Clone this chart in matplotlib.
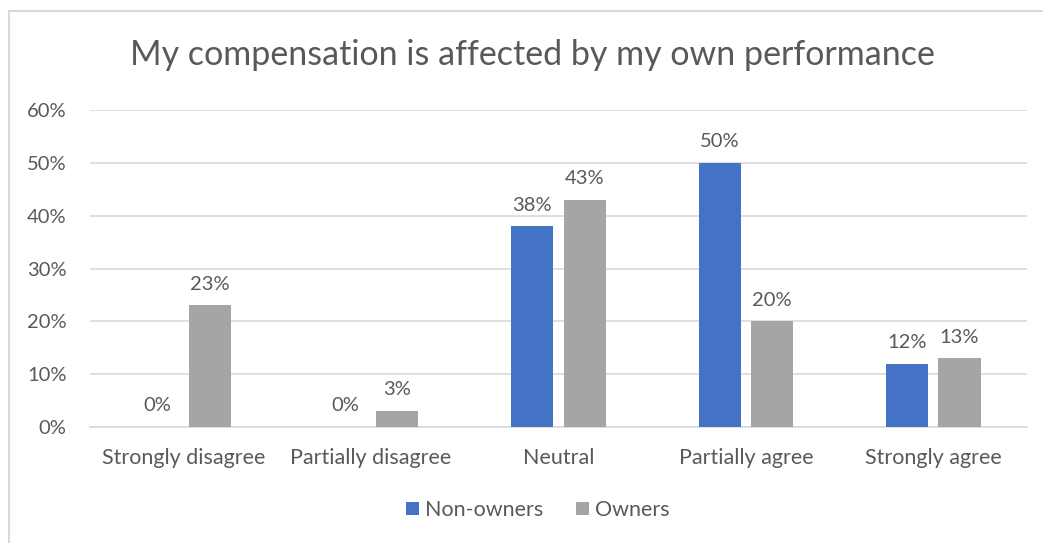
import numpy as np
import matplotlib.pyplot as plt
from matplotlib.patches import Rectangle
from matplotlib.ticker import PercentFormatter

plt.rcParams['font.family'] = ['Lato', 'DejaVu Sans']

categories = ['Strongly disagree', 'Partially disagree', 'Neutral',
              'Partially agree', 'Strongly agree']
non_owners = [0, 0, 38, 50, 12]
owners = [23, 3, 43, 20, 13]
yticks = [0, 10, 20, 30, 40, 50, 60]

blue = '#4472C4'
grey = '#A5A5A5'
text_col = '#595959'

fig = plt.figure(figsize=(10.43, 5.43), dpi=100)
W, H = 1043, 543
ax = fig.add_axes([90 / W, 1 - 427 / H, 937 / W, 317 / H])

# chart frame (only top and left edges fall inside the image)
fig.patches.append(Rectangle((9 / W, -0.1), 1.2, (H - 11) / H + 0.1,
                             transform=fig.transFigure, fill=False,
                             edgecolor='#D9D9D9', linewidth=1.5))

x = np.arange(len(categories))
w = 0.225
off = 0.14
b1 = ax.bar(x - off, non_owners, w, color=blue, label='Non-owners', zorder=3)
b2 = ax.bar(x + off, owners, w, color=grey, label='Owners', zorder=3)

for bars, vals in ((b1, non_owners), (b2, owners)):
    for rect, v in zip(bars, vals):
        ax.text(rect.get_x() + rect.get_width() / 2, v + 2.4, f'{v}%',
                ha='center', va='bottom', fontsize=14.5, color=text_col)

ax.set_xlim(-0.5, len(categories) - 0.5)
ax.set_ylim(0, 60)
ax.set_yticks(yticks)
ax.yaxis.set_major_formatter(PercentFormatter(decimals=0))
ax.set_xticks(x)
ax.set_xticklabels(categories, fontsize=15.5)
ax.tick_params(axis='both', length=0, labelcolor=text_col)
ax.tick_params(axis='y', labelsize=14.5, pad=17)
ax.tick_params(axis='x', pad=15)
ax.grid(axis='y', color='#D9D9D9', linewidth=1.2, zorder=0)
for s in ['top', 'right', 'left']:
    ax.spines[s].set_visible(False)
ax.spines['bottom'].set_color('#D9D9D9')
ax.spines['bottom'].set_linewidth(1.2)

fig.text(532 / W, 1 - 55 / H, 'My compensation is affected by my own performance',
         ha='center', va='center', fontsize=24.5, color=text_col)

fig.legend(handles=[b1, b2], loc='center', bbox_to_anchor=(538 / W, 1 - 510 / H),
           ncol=2, frameon=False, fontsize=15.5, labelcolor=text_col,
           handlelength=0.6, handleheight=0.6, handletextpad=0.3, columnspacing=1.5)

fig.savefig('out.png', dpi=100, facecolor='white')
